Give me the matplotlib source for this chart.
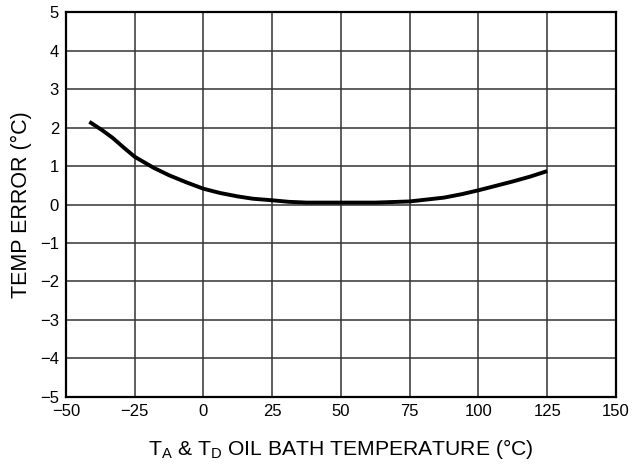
import matplotlib
matplotlib.use("Agg")
import matplotlib.pyplot as plt

plt.rcParams['font.family'] = ['Liberation Sans', 'DejaVu Sans']
plt.rcParams['mathtext.fontset'] = 'custom'
plt.rcParams['mathtext.rm'] = 'Liberation Sans'
plt.rcParams['mathtext.it'] = 'Liberation Sans'

# temperature error curve
bath_temp = [-41.5, -37, -33, -29, -25, -18, -12.5, -6, 0, 6, 12.5, 18, 25, 31,
             37.5, 50, 62.5, 75, 87.5, 94, 100, 106, 112.5, 119, 125]
temp_error = [2.15, 1.94, 1.73, 1.48, 1.24, 0.95, 0.76, 0.57, 0.41, 0.3, 0.21, 0.15, 0.11, 0.07,
              0.05, 0.05, 0.05, 0.08, 0.18, 0.27, 0.37, 0.48, 0.6, 0.73, 0.87]

x_ticks = [-50, -25, 0, 25, 50, 75, 100, 125, 150]
y_ticks = [-5, -4, -3, -2, -1, 0, 1, 2, 3, 4, 5]

fig = plt.figure(figsize=(6.37, 4.68), dpi=100)
ax = fig.add_axes([0.1036, 0.152, 0.8634, 0.822])

ax.plot(bath_temp, temp_error, color='black', linewidth=2.8,
        solid_capstyle='butt', solid_joinstyle='round')

ax.set_xlim(-50, 150)
ax.set_ylim(-5, 5)
ax.set_xticks(x_ticks)
ax.set_yticks(y_ticks)
ax.grid(True, color='#333333', linewidth=1.1)
ax.set_axisbelow(True)
ax.tick_params(length=0, labelsize=12, pad=5)
for s in ax.spines.values():
    s.set_linewidth(1.6)
    s.set_color('black')

ax.set_xlabel('T$_\\mathrm{A}$ & T$_\\mathrm{D}$ OIL BATH TEMPERATURE (°C)', fontsize=15.2, labelpad=13)
ax.set_ylabel('TEMP ERROR (°C)', fontsize=15.5, labelpad=6)

fig.savefig('out.png', dpi=100)
